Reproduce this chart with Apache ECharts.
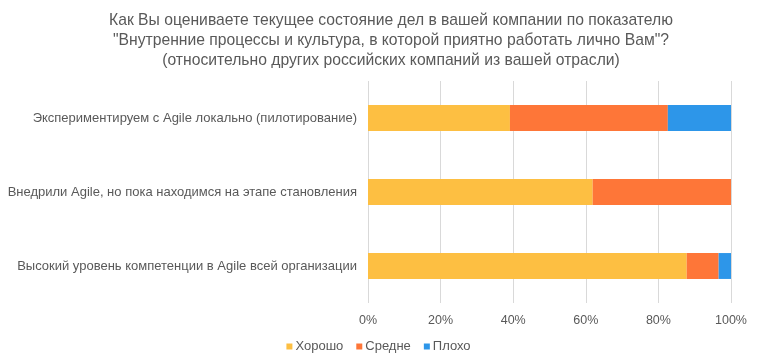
<!DOCTYPE html>
<html><head><meta charset="utf-8">
<script src="https://cdn.jsdelivr.net/npm/echarts@6/dist/echarts.min.js"></script>
<style>html,body{margin:0;padding:0;background:#fff}#c{width:757px;height:363px}</style>
</head><body><div id="c"></div>
<script>
const categories = [
  'Высокий уровень компетенции в Agile всей организации',
  'Внедрили Agile, но пока находимся на этапе становления',
  'Экспериментируем с Agile локально (пилотирование)'
];
const good = [87.8, 61.9, 39.1];
const medium = [8.8, 38.1, 43.5];
const bad = [3.4, 0, 17.4];
const seriesNames = ['Хорошо', 'Средне', 'Плохо'];
const colors = ['#FDBF42', '#FE7638', '#2D96E9'];
const titleText = 'Как Вы оцениваете текущее состояние дел в вашей компании по показателю\n"Внутренние процессы и культура, в которой приятно работать лично Вам"?\n(относительно других российских компаний из вашей отрасли)';

const chart = echarts.init(document.getElementById('c'), null, {renderer: 'canvas'});
const font = 'Helvetica, Arial, "Liberation Sans", sans-serif';
const mk = (name, data, i) => ({
  name, type: 'bar', stack: 'all', data, barWidth: '35%',
  itemStyle: {color: colors[i]}, emphasis: {disabled: true}
});
chart.setOption({
  animation: false,
  textStyle: {fontFamily: font},
  title: {
    text: titleText, left: 386, top: 6, textAlign: 'center',
    textStyle: {fontSize: 15.7, fontWeight: 'normal', color: '#595959', lineHeight: 20, fontFamily: font}
  },
  legend: {
    bottom: 5, left: 'center', itemWidth: 6, itemHeight: 6, itemGap: 13,
    icon: 'rect', textStyle: {fontSize: 13, color: '#595959', padding: [0, 0, 0, -2]},
    data: seriesNames
  },
  grid: {left: 368, right: 26, top: 81, bottom: 60, containLabel: false},
  xAxis: {
    type: 'value', min: 0, max: 100, interval: 20,
    axisLabel: {formatter: '{value}%', color: '#595959', fontSize: 12.5, margin: 11},
    axisLine: {show: false}, axisTick: {show: false},
    splitLine: {lineStyle: {color: '#D9D9D9', width: 1}}
  },
  yAxis: {
    type: 'category', data: categories,
    axisLabel: {color: '#595959', fontSize: 13, margin: 11},
    axisLine: {show: false}, axisTick: {show: false}
  },
  series: [mk(seriesNames[0], good, 0), mk(seriesNames[1], medium, 1), mk(seriesNames[2], bad, 2)]
});
</script></body></html>
